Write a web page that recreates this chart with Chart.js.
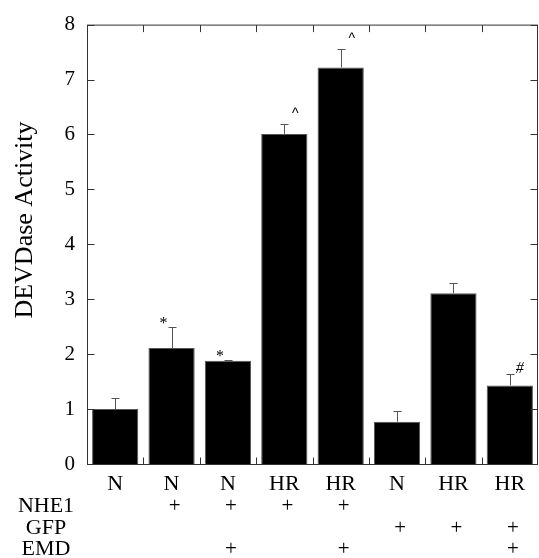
<!DOCTYPE html>
<html>
<head>
<meta charset="utf-8">
<script src="https://cdn.jsdelivr.net/npm/chart.js@4.4.0/dist/chart.umd.min.js"></script>
<style>
  html, body { margin: 0; padding: 0; background: #fff; }
  #wrap { width: 539px; height: 558px; position: relative; }
</style>
</head>
<body>
<div id="wrap"><canvas id="chart"></canvas></div>
<script>
// values
const categories = ["N", "N", "N", "HR", "HR", "N", "HR", "HR"];
const activity = [1.0, 2.11, 1.88, 6.01, 7.22, 0.77, 3.11, 1.43];
const errorUp = [0.2, 0.38, 0.02, 0.18, 0.34, 0.2, 0.19, 0.2];
const marks = ["", "*", "*", "^", "^", "", "", "#"];
const yTicks = [0, 1, 2, 3, 4, 5, 6, 7, 8];
const rowNames = ["NHE1", "GFP", "EMD"];
const nhe1 = [0, 1, 1, 1, 1, 0, 0, 0];
const gfp = [0, 0, 0, 0, 0, 1, 1, 1];
const emd = [0, 0, 1, 0, 1, 0, 0, 1];

const serif = '"Liberation Serif", "Times New Roman", serif';

const extras = {
  id: "extras",
  afterDatasetsDraw(chart) {
    const { ctx, chartArea: a, scales: { x, y } } = chart;
    ctx.save();
    // error bars (upper only)
    ctx.strokeStyle = "#555";
    ctx.lineWidth = 1;
    activity.forEach((v, i) => {
      const cx = Math.round(x.getPixelForValue(i)) + 0.5;
      const y0 = y.getPixelForValue(v);
      const y1 = Math.round(y.getPixelForValue(v + errorUp[i])) + 0.5;
      ctx.beginPath();
      ctx.moveTo(cx, y0);
      ctx.lineTo(cx, y1);
      ctx.moveTo(cx - 4, y1);
      ctx.lineTo(cx + 4, y1);
      ctx.stroke();
    });
    // frame
    ctx.strokeStyle = "#333";
    const L = a.left + 0.5, R = a.right - 0.5, T = a.top + 0.5, B = a.bottom + 0.5;
    ctx.strokeRect(L, T, R - L, B - T);
    // inner ticks on y
    ctx.beginPath();
    yTicks.forEach(t => {
      const py = Math.round(y.getPixelForValue(t)) + 0.5;
      ctx.moveTo(L, py); ctx.lineTo(L + 7, py);
      ctx.moveTo(R, py); ctx.lineTo(R - 7, py);
    });
    // category boundary ticks top and bottom
    for (let i = 1; i < categories.length; i++) {
      const px = Math.round((x.getPixelForValue(i - 1) + x.getPixelForValue(i)) / 2) + 0.5;
      ctx.moveTo(px, T); ctx.lineTo(px, T + 7);
      ctx.moveTo(px, B); ctx.lineTo(px, B - 7);
    }
    ctx.stroke();
    // significance marks
    ctx.fillStyle = "#000";
    ctx.textAlign = "center";
    ctx.textBaseline = "middle";
    marks.forEach((m, i) => {
      if (!m) return;
      const cx = x.getPixelForValue(i);
      const top = y.getPixelForValue(activity[i] + errorUp[i]);
      if (m === "*") {
        ctx.font = "16px " + serif;
        ctx.fillText(m, cx - 8, top - 3);
      } else if (m === "^") {
        ctx.font = "14px \"Liberation Sans\", sans-serif";
        ctx.fillText(m, cx + 11, top - 10);
      } else {
        ctx.font = "italic 16px " + serif;
        ctx.fillText(m, cx + 10, top - 6);
      }
    });
    ctx.restore();
  },
  afterDraw(chart) {
    const { ctx, scales: { x } } = chart;
    ctx.save();
    ctx.fillStyle = "#000";
    ctx.textAlign = "center";
    ctx.textBaseline = "middle";
    ctx.font = "22px " + serif;
    const rows = [nhe1, gfp, emd];
    const rowY = [506, 528, 549];
    rows.forEach((r, k) => {
      ctx.fillText(rowNames[k], 46, rowY[k]);
      ctx.font = "21px " + serif;
      r.forEach((on, i) => {
        if (on) ctx.fillText("+", x.getPixelForValue(i) + 3, rowY[k]);
      });
      ctx.font = "22px " + serif;
    });
    // y axis title
    ctx.font = "26px " + serif;
    ctx.translate(25, 220);
    ctx.rotate(-Math.PI / 2);
    ctx.fillText("DEVDase Activity", 0, 0);
    ctx.restore();
  }
};

new Chart(document.getElementById("chart"), {
  type: "bar",
  data: {
    labels: categories,
    datasets: [{
      data: activity,
      backgroundColor: "#000",
      borderColor: "#555",
      borderWidth: 1,
      barPercentage: 0.82,
      categoryPercentage: 1
    }]
  },
  options: {
    responsive: true,
    maintainAspectRatio: false,
    animation: false,
    layout: { padding: { top: 23, right: 1, left: 0, bottom: 0 } },
    plugins: { legend: { display: false }, tooltip: { enabled: false } },
    scales: {
      x: {
        grid: { display: false, drawTicks: false },
        border: { display: false },
        ticks: { color: "#000", font: { family: serif, size: 22 }, padding: 7, maxRotation: 0 },
        afterFit: s => { s.height = 94; }
      },
      y: {
        min: 0,
        max: 8,
        grid: { display: false, drawTicks: false },
        border: { display: false },
        ticks: { stepSize: 1, color: "#000", font: { family: serif, size: 21 }, padding: 12 },
        afterFit: s => { s.width = 87; }
      }
    }
  },
  plugins: [extras]
});
</script>
</body>
</html>
